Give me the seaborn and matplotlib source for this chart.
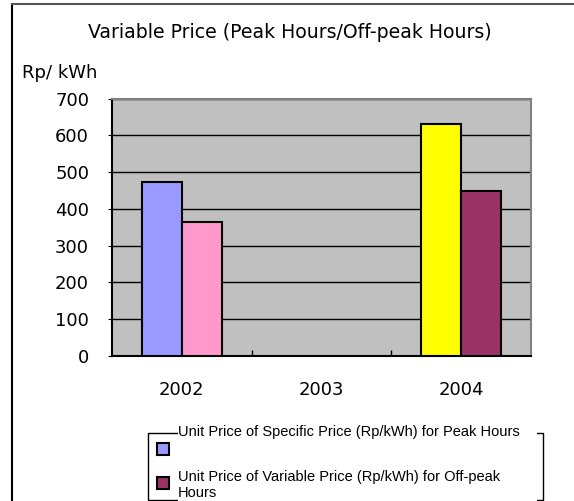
import numpy as np
import pandas as pd
import seaborn as sns
import matplotlib.pyplot as plt
from matplotlib.lines import Line2D
from matplotlib.patches import Rectangle

# data
years = ['2002', '2003', '2004']
peak = [473, np.nan, 630]
offpeak = [365, np.nan, 450]
series_names = ['Unit Price of Specific Price (Rp/kWh) for Peak Hours',
                'Unit Price of Variable Price (Rp/kWh) for Off-peak Hours']
peak_colors = ['#9999FF', '#FFFF00']      # 2002, 2004
offpeak_colors = ['#FF99CC', '#993366']   # 2002, 2004
legend_colors = ['#9999FF', '#993366']

df = pd.DataFrame({
    'year': years * 2,
    'price': peak + offpeak,
    'series': [series_names[0]] * 3 + [series_names[1]] * 3,
}).dropna()

plt.rcParams['font.family'] = 'DejaVu Sans'
W, H = 574, 501
fig = plt.figure(figsize=(W / 100, H / 100), dpi=100)
ax = fig.add_axes([112 / W, 1 - 356 / H, (531 - 112) / W, (356 - 98.7) / H])

sns.barplot(data=df, x='year', y='price', hue='series', order=years,
            hue_order=series_names, width=0.575, saturation=1,
            edgecolor='black', linewidth=1.5, legend=False, ax=ax, zorder=3)

# every bar has its own colour in the original
for cont, cols in zip(ax.containers, [peak_colors, offpeak_colors]):
    for bar, c in zip(cont, cols):
        bar.set_facecolor(c)

ax.set_facecolor('#C0C0C0')
ax.set_axisbelow(True)
ax.yaxis.grid(True, color='black', linewidth=1)
ax.xaxis.grid(False)
ax.set_ylim(0, 700)
ax.set_yticks(range(0, 701, 100))
ax.set_xlim(-0.5, 2.5)
ax.set_xticks([0.5, 1.5], minor=True)
ax.tick_params(axis='x', which='major', length=0, pad=18, labelsize=13)
ax.tick_params(axis='x', which='minor', direction='in', length=4, width=1)
ax.tick_params(axis='y', direction='out', length=3, pad=13.5, labelsize=13)
ax.set_xlabel('')
ax.set_ylabel('')
for s in ['left', 'bottom']:
    ax.spines[s].set_color('black')
    ax.spines[s].set_linewidth(1.5)
for s in ['top', 'right']:
    ax.spines[s].set_color('#808080')
    ax.spines[s].set_linewidth(1.5)

fig.text(290 / W, 1 - 33 / H, 'Variable Price (Peak Hours/Off-peak Hours)',
         ha='center', va='center', fontsize=13.6)
fig.text(22 / W, 1 - 73 / H, 'Rp/ kWh', ha='left', va='center', fontsize=13)

# outer chart border (cut off on the right/bottom)
fig.add_artist(Line2D([12 / W, 12 / W], [0, 1 - 4 / H], color='black', lw=1.5))
fig.add_artist(Line2D([12 / W, 1], [1 - 4 / H, 1 - 4 / H], color='#555555', lw=1.5))

# legend, drawn like the clipped Excel one
tf = fig.transFigure
fig.add_artist(Rectangle((148 / W, 1 - 500 / H), (543 - 148) / W, (500 - 433) / H,
                         fill=False, ec='black', lw=1, transform=tf))
fig.add_artist(Rectangle((178 / W, 0), (537 - 178) / W, 1 - 425 / H,
                         fc='white', ec='none', transform=tf))
for y0, c in zip([443, 477], legend_colors):
    fig.add_artist(Rectangle((157 / W, 1 - (y0 + 12) / H), 12 / W, 12 / H,
                             fc=c, ec='black', lw=1.5, transform=tf))
fig.text(178 / W, 1 - 432 / H, series_names[0], ha='left', va='center',
         fontsize=10.5, family='Liberation Sans')
fig.text(178 / W, 1 - 470 / H, 'Unit Price of Variable Price (Rp/kWh) for Off-peak\nHours',
         ha='left', va='top', fontsize=10.5, linespacing=1.2, family='Liberation Sans')

fig.savefig('out.png', dpi=100)
